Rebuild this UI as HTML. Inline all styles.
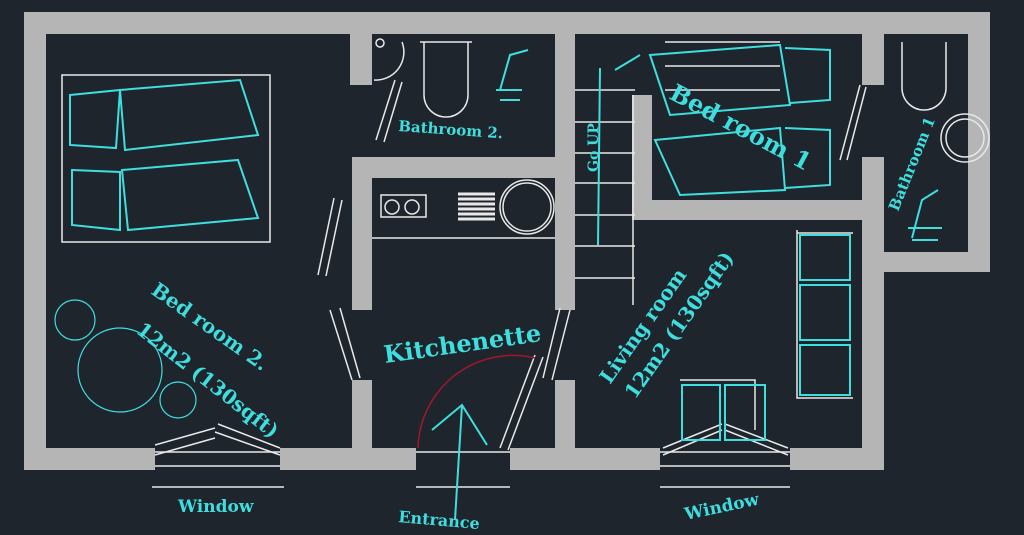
<!DOCTYPE html>
<html><head><meta charset="utf-8"><style>
html,body{margin:0;padding:0;background:#1f252d;}
svg{display:block}
text{font-family:"DejaVu Serif","Liberation Serif",serif;fill:#3fdede;font-weight:bold}
</style></head><body>
<svg width="1024" height="535" viewBox="0 0 1024 535" xmlns="http://www.w3.org/2000/svg">
<rect width="1024" height="535" fill="#1f252d"/>
<g fill="#b5b5b5">
<!-- outer -->
<rect x="24" y="12" width="966" height="22"/>
<rect x="24" y="12" width="22" height="458"/>
<rect x="968" y="12" width="22" height="260"/>
<rect x="862" y="252" width="128" height="20"/>
<rect x="862" y="252" width="22" height="218"/>
<!-- bottom wall with gaps -->
<rect x="24" y="448" width="131" height="22"/>
<rect x="280" y="448" width="136" height="22"/>
<rect x="510" y="448" width="150" height="22"/>
<rect x="790" y="448" width="94" height="22"/>
<!-- bed2 / bath2 wall -->
<rect x="350" y="34" width="22" height="51"/>
<rect x="352" y="157" width="20" height="153"/>
<rect x="352" y="380" width="20" height="70"/>
<rect x="352" y="157" width="223" height="21"/>
<!-- kitchen right / stairs -->
<rect x="555" y="34" width="20" height="276"/>
<rect x="555" y="380" width="20" height="70"/>
<rect x="632" y="95" width="20" height="125"/>
<rect x="632" y="200" width="230" height="20"/>
<!-- bath1 left wall -->
<rect x="862" y="34" width="22" height="51"/>
<rect x="862" y="157" width="22" height="95"/>
</g>
<g stroke="#e8e8e8" stroke-width="1.5" fill="none">
<!-- window/entrance frames -->
<path d="M155 452H280M155 466H280M152 487H284M416 452H510M416 487H510M660 452H790M660 466H790M660 487H790"/>
<path d="M155 445L215 428M155 455L215 438M280 455L215 432M280 448L218 424"/>
<path d="M663 455L722 430M663 448L722 424M788 455L725 430M788 448L725 424"/>
<!-- doors -->
<path d="M376 140L395 80M384 142L402 82"/>
<path d="M840 160L860 85M847 160L866 87"/>
<path d="M330 310L352 380M340 308L360 378"/>
<path d="M560 308L543 378M570 310L552 380"/>
<path d="M500 448L535 355M508 450L543 357"/>
<path d="M318 275L334 198M326 276L342 200"/>
<!-- bed2 frame -->
<rect x="62" y="75" width="208" height="167"/>
<!-- bath2 -->
<path d="M424 42V95A22 22 0 0 0 468 95V42M420 42H472"/>
<path d="M374 80A28 28 0 0 0 402 42"/>
<circle cx="380" cy="43" r="4"/>
<!-- kitchen -->
<path d="M372 238H555"/>
<rect x="381" y="195" width="45" height="22"/>
<circle cx="392" cy="207" r="7"/><circle cx="412" cy="207" r="7"/>
<circle cx="527" cy="207" r="27"/><circle cx="527" cy="207" r="24"/>
<path d="M458 194H495M458 199H495M458 204H495M458 209H495M458 214H495M458 219H495" stroke-width="3"/>
<!-- stairs -->
<path d="M575 90H635M575 122H635M575 153H635M575 183H635M575 215H635M575 246H635M575 278H635M633 95V305"/>
<path d="M665 42H780M665 66H780M665 90H780"/>
<!-- bath1 -->
<path d="M902 42V88A22 22 0 0 0 946 88V42"/>
<circle cx="965" cy="138" r="24"/><circle cx="965" cy="138" r="19"/>
<!-- living -->
<path d="M797 230V398H853M680 380H755V430M797 233H853"/>
</g>
<path d="M418 448A95 95 0 0 1 535 358" stroke="#a0182a" stroke-width="1.5" fill="none"/>
<g stroke="#3fdede" stroke-width="2" fill="none">
<path d="M70 95L120 90L116 148L70 145ZM120 90L240 80L258 135L125 150Z"/>
<path d="M72 170L120 172L120 230L72 225ZM122 170L238 160L258 218L128 230Z"/>
<path d="M650 55L780 45L790 105L670 115ZM785 48L830 50L830 100L790 103"/>
<path d="M655 140L780 128L785 190L680 195ZM785 128L830 130L830 185L785 188"/>
<path d="M800 235H850V280H800ZM800 285H850V340H800ZM800 345H850V395H800Z"/>
<path d="M682 385H720V440H682ZM725 385H765V440H725Z"/>
<path d="M598 245L600 68M615 70L640 55"/>
<path d="M455 520L462 405M432 430L462 405L487 445"/>
<circle cx="120" cy="370" r="42" stroke-width="1.2"/>
<circle cx="75" cy="320" r="20" stroke-width="1.2"/>
<circle cx="178" cy="400" r="18" stroke-width="1.2"/>
<path d="M500 90L510 55L528 50M496 90H522M500 100H520"/>
<path d="M912 238L922 200L938 190M908 228H942M912 240H938"/>
</g>
<text x="398" y="131" font-size="15" transform="rotate(4 398 131)">Bathroom 2.</text>
<text x="0" y="0" font-size="24" transform="translate(668 98) rotate(28)">Bed room 1</text>
<text x="0" y="0" font-size="15" transform="translate(898 212) rotate(-68)">Bathroom 1</text>
<text x="0" y="0" font-size="14" transform="translate(598 172) rotate(-90)">Go UP</text>
<text x="0" y="0" font-size="20" transform="translate(150 293) rotate(35)">Bed room 2.</text>
<text x="0" y="0" font-size="20" transform="translate(135 332) rotate(38)">12m2 (130sqft)</text>
<text x="0" y="0" font-size="24" transform="translate(385 363) rotate(-8)">Kitchenette</text>
<text x="0" y="0" font-size="20" transform="translate(610 385) rotate(-55)">Living room</text>
<text x="0" y="0" font-size="20" transform="translate(635 400) rotate(-55)">12m2 (130sqft)</text>
<text x="178" y="512" font-size="17">Window</text>
<text x="398" y="522" font-size="16" transform="rotate(5 398 522)">Entrance</text>
<text x="0" y="0" font-size="17" transform="translate(686 520) rotate(-12)">Window</text>
</svg>
</body></html>
